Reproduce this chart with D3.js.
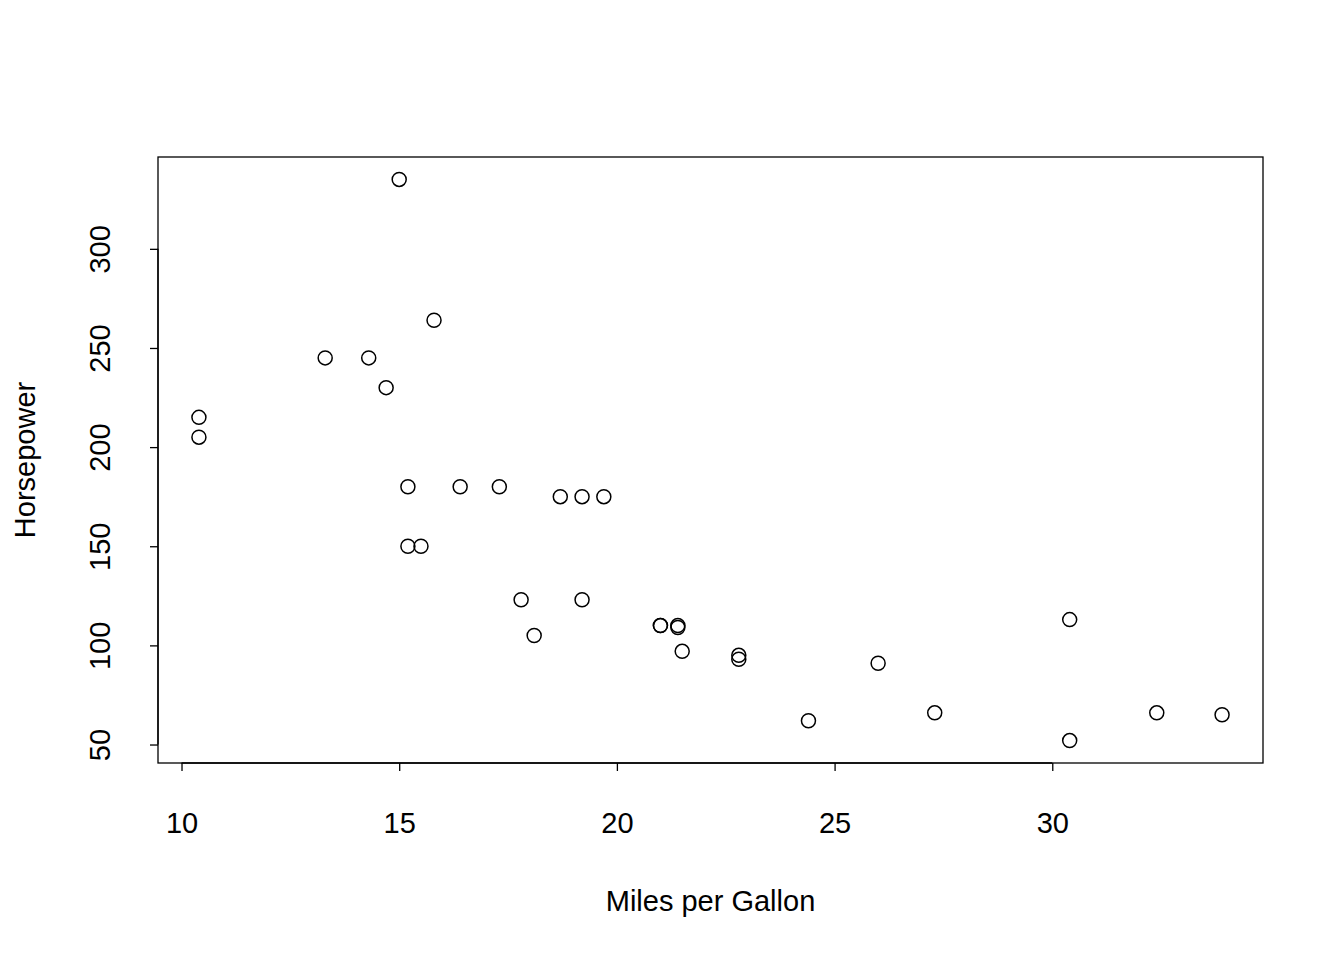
<!DOCTYPE html>
<html><head><meta charset="utf-8">
<script src="https://cdn.jsdelivr.net/npm/d3@7"></script>
<style>body{margin:0;background:#fff}text{font-family:"Liberation Sans",Arial,sans-serif;fill:#000}</style>
</head><body><svg id="c" width="1344" height="960"></svg>
<script>
const mpg=[21.0,21.0,22.8,21.4,18.7,18.1,14.3,24.4,22.8,19.2,17.8,16.4,17.3,15.2,10.4,10.4,14.7,32.4,30.4,33.9,21.5,15.5,15.2,13.3,19.2,27.3,26.0,30.4,15.8,19.7,15.0,21.4];
const hp=[110,110,93,110,175,105,245,62,95,123,123,180,180,180,205,215,230,66,52,65,97,150,150,245,175,66,91,113,264,175,335,109];
const xTicks=[10,15,20,25,30];
const yTicks=[50,100,150,200,250,300];
const svg=d3.select("#c");
const L=158,R=1263,T=157,B=763;
const x=d3.scaleLinear().domain([9.46,34.84]).range([L,R]);
const y=d3.scaleLinear().domain([40.68,346.32]).range([B,T]);
svg.append("rect").attr("x",L).attr("y",T).attr("width",R-L).attr("height",B-T).attr("fill","none").attr("stroke","#000").attr("stroke-width",1.3);
const xa=svg.append("g").attr("transform",`translate(0,${B})`).call(d3.axisBottom(x).tickValues(xTicks).tickSize(8).tickPadding(22));
xa.select(".domain").attr("d",`M${x(10)},0H${x(30)}`);
xa.selectAll("text").attr("y",0).attr("dy",0).attr("transform","translate(0,70)").attr("font-size",29);
const ya=svg.append("g").attr("transform",`translate(${L},0)`).call(d3.axisLeft(y).tickValues(yTicks).tickSize(8));
ya.select(".domain").attr("d",`M0,${y(50)}V${y(300)}`);
ya.selectAll(".tick text").attr("transform","rotate(-90)").attr("x",0).attr("y",-48).attr("dy",0).attr("text-anchor","middle").attr("font-size",29);
svg.selectAll("g path, g line").attr("stroke-width",1.3);
svg.append("g").selectAll("circle").data(mpg).join("circle")
 .attr("cx",d=>x(d)).attr("cy",(d,i)=>y(hp[i])).attr("r",7).attr("fill","none").attr("stroke","#000").attr("stroke-width",1.5);
svg.append("text").attr("x",(L+R)/2).attr("y",911).attr("text-anchor","middle").attr("font-size",29).text("Miles per Gallon");
svg.append("text").attr("transform",`translate(35,${(T+B)/2}) rotate(-90)`).attr("text-anchor","middle").attr("font-size",29).text("Horsepower");
</script></body></html>
